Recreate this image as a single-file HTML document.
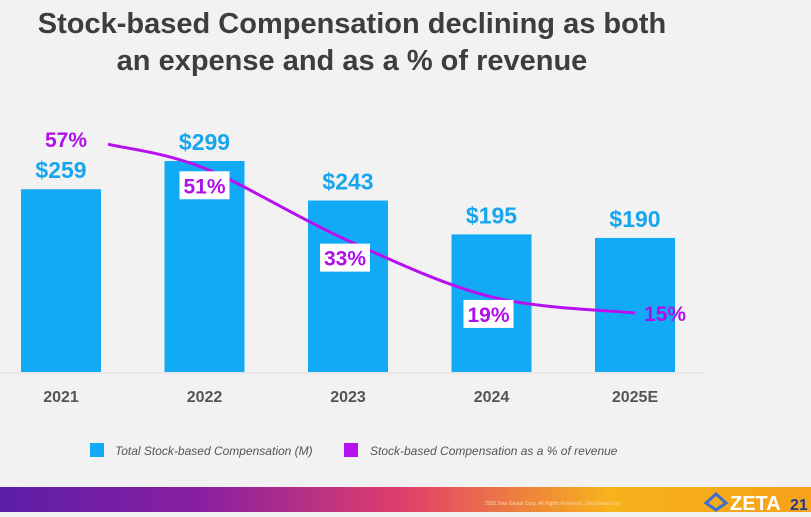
<!DOCTYPE html>
<html><head><meta charset="utf-8"><style>
body{margin:0;width:811px;height:512px;background:#f2f2f2;overflow:hidden;font-family:"Liberation Sans",sans-serif}
</style></head><body>
<svg width="811" height="512" id="svg">
<defs>
<linearGradient id="ft" x1="0" x2="1" y1="0" y2="0">
<stop offset="0" stop-color="#5b1fa8"/><stop offset="0.25" stop-color="#8a1fa0"/><stop offset="0.5" stop-color="#e0406a"/><stop offset="0.75" stop-color="#f7b21c"/><stop offset="1" stop-color="#f7a21a"/>
</linearGradient>
</defs>
<text x="352" y="33" text-anchor="middle" font-size="29" font-weight="bold" fill="#3d3d3d">Stock-based Compensation declining as both</text>
<text x="352" y="70" text-anchor="middle" font-size="29" font-weight="bold" fill="#3d3d3d">an expense and as a % of revenue</text>
<line x1="0" y1="373" x2="705" y2="373" stroke="#dcdcdc"/>
<g id="bars"></g><g id="line"></g><g id="labels"></g>
<rect x="90" y="443" width="14" height="14" fill="#12a9f5"/>
<text x="115" y="455" font-size="12" font-style="italic" fill="#555">Total Stock-based Compensation (M)</text>
<rect x="344" y="443" width="14" height="14" fill="#b711f0"/>
<text x="370" y="455" font-size="12" font-style="italic" fill="#555">Stock-based Compensation as a % of revenue</text>
<rect x="0" y="487" width="811" height="25" fill="url(#ft)"/>
<text x="620" y="505" text-anchor="end" font-size="5" fill="#f8d9b0">2025 Zeta Global Corp. All Rights Reserved. ZetaGlobal.com</text>
<path d="M706 503 L716 494 L726 503 L716 510 Z" fill="none" stroke="#3b6fd0" stroke-width="3"/>
<text x="730" y="510" font-size="20" font-weight="bold" fill="#fff">ZETA</text>
<text x="790" y="510" font-size="16" font-weight="bold" fill="#1f3b8a">21</text>
</svg>
<script>
const categories=["2021","2022","2023","2024","2025E"];
const sbcValues=[259,299,243,195,190];
const pctValues=[57,51,33,19,15];
const ns="http://www.w3.org/2000/svg";
const base=372;
const xC=i=>61+i*143.5;
const yBar=v=>base-v*0.7057;
const yPct=v=>313-(v-15)*4.02;
const xLine=i=>i===0?xC(0)+47:xC(i);
function mk(t,a,p){const e=document.createElementNS(ns,t);for(const k in a)e.setAttribute(k,a[k]);p.appendChild(e);return e;}
const gb=document.getElementById('bars'),gl=document.getElementById('line'),gt=document.getElementById('labels');
categories.forEach((c,i)=>{
 const r=mk('rect',{x:xC(i)-40,y:yBar(sbcValues[i]),width:80,height:base-yBar(sbcValues[i]),fill:'#12a9f5'},gb);
 
 
 const t=mk('text',{x:xC(i),y:yBar(sbcValues[i])-11,'text-anchor':'middle','font-size':23,'font-weight':'bold',fill:'#17a6ee'},gt);
 t.textContent='$'+sbcValues[i];
 
 
 const x=mk('text',{x:xC(i),y:402,'text-anchor':'middle','font-size':16,'font-weight':'bold',fill:'#555'},gt);
 x.textContent=c;
 
 
});
const pts=pctValues.map((v,i)=>[xLine(i),yPct(v)]);
let d='M'+pts[0][0]+' '+pts[0][1];
for(let i=0;i<pts.length-1;i++){
 const p0=pts[Math.max(0,i-1)],p1=pts[i],p2=pts[i+1],p3=pts[Math.min(pts.length-1,i+2)];
 const c1=[p1[0]+(p2[0]-p0[0])/6,p1[1]+(p2[1]-p0[1])/6];
 const c2=[p2[0]-(p3[0]-p1[0])/6,p2[1]-(p3[1]-p1[1])/6];
 d+=` C${c1[0]} ${c1[1]} ${c2[0]} ${c2[1]} ${p2[0]} ${p2[1]}`;
}
const pl=mk('path',{d:d,fill:'none',stroke:'#b711f0','stroke-width':3},gl);


pctValues.forEach((v,i)=>{
 let lx,ly,box=true;
 if(i===0){lx=xC(0)+5;ly=pts[0][1]-5;box=false;}
 else if(i===4){lx=xC(4)+30;ly=pts[4][1];box=false;}
 else {lx=xC(i)+(i===1?0:-3);ly=pts[i][1]+17;}
 if(box){const b=mk('rect',{x:lx-25,y:ly-14,width:50,height:28,fill:'#fff'},gt);
  
  }
 const t=mk('text',{x:lx,y:ly+8,'text-anchor':'middle','font-size':21,'font-weight':'bold',fill:'#b010e8'},gt);
 t.textContent=v+'%';
 
 
});
</script>
</body></html>
